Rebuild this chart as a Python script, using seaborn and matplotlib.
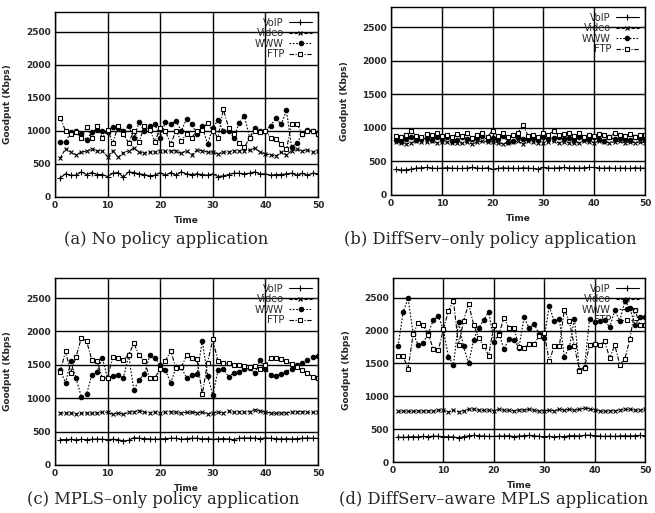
import numpy as np
import pandas as pd
import matplotlib.pyplot as plt
import seaborn as sns

# Time axis shared by all four panels
time = list(range(1, 51))

# (a) No policy application
a_voip = [290, 350, 330, 330, 380, 340, 370, 340, 340, 310, 360, 370, 300, 380, 370, 350, 340, 320, 330, 370,
          330, 370, 330, 380, 350, 340, 350, 340, 330, 350, 310, 320, 340, 360, 360, 350, 360, 380, 350, 350,
          330, 340, 340, 350, 360, 330, 360, 330, 360, 350]
a_video = [590, 730, 680, 640, 680, 690, 730, 700, 700, 610, 700, 600, 670, 700, 740, 680, 660, 680, 680, 700,
           690, 700, 700, 660, 700, 640, 710, 700, 680, 680, 650, 680, 680, 700, 700, 700, 710, 740, 680, 650,
           640, 620, 680, 640, 700, 720, 700, 710, 680, 700]
a_www = [830, 830, 980, 1000, 950, 870, 980, 1010, 1000, 990, 1060, 1050, 1000, 1070, 900, 1130, 1000, 1070, 1100, 900,
         1140, 1100, 1150, 1000, 1180, 1100, 950, 1070, 800, 1050, 1160, 1000, 1000, 900, 1120, 1230, 900, 1050, 1000, 1000,
         1080, 1190, 1100, 1310, 750, 820, 950, 1020, 1000, 960]
a_ftp = [1200, 1000, 950, 980, 900, 1060, 900, 1080, 890, 1020, 820, 1080, 950, 820, 1000, 830, 1080, 1020, 840, 1050,
         1000, 800, 1000, 850, 950, 900, 1000, 1020, 1120, 1000, 900, 1330, 1050, 950, 820, 750, 900, 1000, 980, 1000,
         900, 880, 800, 720, 1110, 1110, 950, 1000, 1000, 960]

# (b) DiffServ-only policy application
b_voip = [380, 370, 375, 385, 400, 405, 410, 400, 395, 400, 405, 400, 395, 395, 400, 410, 400, 395, 405, 380,
          395, 405, 400, 400, 395, 405, 400, 395, 385, 410, 400, 400, 405, 410, 400, 405, 400, 405, 410, 410,
          400, 400, 405, 395, 400, 400, 395, 405, 400, 400]
b_video = [790, 770, 760, 780, 800, 790, 790, 800, 780, 790, 790, 780, 780, 770, 790, 760, 790, 800, 790, 790,
           780, 760, 780, 790, 800, 760, 800, 790, 780, 780, 790, 800, 780, 790, 780, 770, 780, 800, 790, 780,
           800, 790, 780, 790, 800, 780, 790, 780, 790, 780]
b_www = [820, 810, 840, 870, 820, 830, 850, 820, 860, 830, 870, 810, 820, 860, 830, 830, 850, 880, 820, 850,
         830, 880, 790, 800, 860, 840, 830, 850, 820, 860, 840, 850, 870, 830, 850, 820, 860, 840, 830, 870,
         840, 810, 860, 830, 850, 840, 820, 860, 850, 830]
b_ftp = [880, 870, 900, 950, 880, 860, 910, 890, 930, 880, 900, 860, 910, 880, 920, 850, 900, 930, 870, 960,
         880, 920, 870, 890, 930, 1040, 880, 900, 870, 920, 900, 950, 890, 910, 930, 880, 920, 870, 900, 880,
         910, 900, 860, 920, 890, 880, 910, 870, 890, 900]

# (c) MPLS-only policy application
c_voip = [380, 380, 385, 375, 385, 380, 385, 390, 385, 380, 385, 380, 360, 370, 410, 400, 395, 390, 385, 390,
          395, 400, 400, 385, 395, 400, 400, 390, 395, 385, 390, 395, 390, 380, 400, 405, 405, 400, 395, 405,
          400, 395, 390, 395, 390, 395, 400, 405, 400, 400]
c_video = [780, 775, 780, 770, 775, 780, 775, 780, 790, 790, 760, 780, 760, 790, 800, 810, 790, 785, 790, 780,
           790, 800, 790, 780, 790, 790, 785, 790, 770, 780, 790, 780, 810, 790, 800, 790, 800, 830, 810, 790,
           780, 775, 780, 780, 790, 800, 800, 790, 790, 800]
c_www = [1420, 1230, 1550, 1300, 1020, 1060, 1350, 1400, 1600, 1300, 1330, 1350, 1300, 1640, 1120, 1280, 1360, 1640, 1600, 1500,
         1420, 1230, 1460, 1460, 1310, 1350, 1360, 1860, 1340, 1050, 1420, 1440, 1320, 1380, 1400, 1430, 1450, 1380, 1570, 1440,
         1350, 1340, 1360, 1400, 1440, 1490, 1530, 1570, 1610, 1630]
c_ftp = [1400, 1700, 1380, 1620, 1900, 1860, 1570, 1550, 1300, 1310, 1620, 1600, 1570, 1650, 1820, 1640, 1560, 1300, 1310, 1430,
         1560, 1710, 1450, 1460, 1640, 1600, 1580, 1060, 1530, 1880, 1550, 1530, 1520, 1500, 1500, 1480, 1470, 1480, 1440, 1500,
         1600, 1600, 1590, 1560, 1510, 1460, 1420, 1380, 1320, 1310]

# (d) DiffServ-aware MPLS application
d_voip = [380, 375, 380, 385, 380, 390, 385, 395, 390, 385, 385, 380, 370, 385, 400, 405, 400, 395, 390, 390,
          395, 395, 400, 385, 395, 400, 405, 400, 390, 385, 390, 380, 390, 385, 400, 400, 395, 405, 410, 400,
          395, 390, 395, 390, 395, 400, 395, 400, 405, 400]
d_video = [770, 775, 770, 770, 775, 775, 780, 775, 790, 785, 760, 790, 765, 780, 800, 805, 790, 785, 790, 780,
           800, 790, 785, 780, 790, 790, 800, 790, 775, 780, 785, 780, 800, 790, 800, 790, 800, 820, 810, 790,
           780, 770, 780, 780, 790, 800, 800, 790, 790, 800]
d_www = [1760, 2280, 2490, 1950, 1780, 1810, 1960, 2160, 2220, 2010, 1600, 1480, 2130, 1760, 1500, 1860, 2040, 2160, 2290, 1820,
         1960, 1720, 1870, 1860, 1740, 2200, 2040, 2100, 1950, 1890, 2370, 2140, 2180, 1600, 1750, 2180, 1400, 1450, 2180, 2130,
         2150, 2160, 2050, 2310, 2150, 2450, 2340, 2080, 2200, 2200]
d_ftp = [1610, 1610, 1420, 1950, 2120, 2080, 1940, 1720, 1700, 2020, 2300, 2450, 1780, 2150, 2410, 2090, 1890, 1760, 1620, 2090,
         1940, 2190, 2040, 2040, 1750, 1730, 1800, 1790, 1920, 1970, 1530, 1770, 1760, 2320, 2140, 1760, 1390, 1430, 1780, 1790,
         1780, 1840, 1580, 1780, 1480, 1570, 1870, 2320, 2080, 2080]

series_names = ['VoIP', 'Video', 'WWW', 'FTP']
captions = ['(a) No policy application',
            '(b) DiffServ\u2013only policy application',
            '(c) MPLS\u2013only policy application',
            '(d) DiffServ\u2013aware MPLS application']
panel_data = [
    [a_voip, a_video, a_www, a_ftp],
    [b_voip, b_video, b_www, b_ftp],
    [c_voip, c_video, c_www, c_ftp],
    [d_voip, d_video, d_www, d_ftp],
]

# line styles in the gnuplot look: (linestyle, marker, filled)
styles = {
    'VoIP': ('-', '+', True),
    'Video': ((0, (3, 1.5)), 'x', True),
    'WWW': ((0, (1.5, 1.5)), 'o', True),
    'FTP': ((0, (4, 1.5, 1, 1.5)), 's', False),
}

sns.set_style('white')
plt.rcParams['font.family'] = ['DejaVu Sans']

fig = plt.figure(figsize=(6.55, 5.13), dpi=100)
W, H = 655, 513
# axes boxes in pixels: left, top, right, bottom
boxes = [(55, 12, 318, 197), (391, 7, 645, 195), (55, 278, 318, 465), (393, 278, 645, 462)]
cap_pos = [(166, 240), (490, 240), (163, 500), (494, 500)]

for i, (box, vals) in enumerate(zip(boxes, panel_data)):
    l, t, r, b = box
    ax = fig.add_axes([l / W, 1 - b / H, (r - l) / W, (b - t) / H])
    for name, y in zip(series_names, vals):
        ls, mk, filled = styles[name]
        df = pd.DataFrame({'Time': time, 'Goodput': y})
        sns.lineplot(data=df, x='Time', y='Goodput', ax=ax, color='black', linewidth=0.8,
                     linestyle=ls, marker=mk, markersize=3.2 if mk != '+' else 4,
                     markeredgewidth=0.8, markerfacecolor='black' if filled else 'white',
                     markeredgecolor='black', label=name)
    ax.set_xlim(0, 50)
    ax.set_ylim(0, 2800)
    ax.set_xticks(range(0, 51, 10))
    ax.set_yticks(range(0, 2501, 500))
    ax.grid(True, color='black', linewidth=1.0)
    ax.tick_params(direction='in', length=3, labelsize=6.5, top=True, right=True, pad=3)
    for lab in ax.get_xticklabels() + ax.get_yticklabels():
        lab.set_fontweight('bold')
    for s in ax.spines.values():
        s.set_color('black')
        s.set_linewidth(1.0)
    ax.set_xlabel('Time', fontsize=6.5, fontweight='bold', labelpad=4)
    ax.set_ylabel('Goodput (Kbps)', fontsize=6.5, fontweight='bold')
    ax.yaxis.set_label_coords(-0.165, 0.5)
    ax.legend(loc='upper right', frameon=False, fontsize=7, markerfirst=False,
              handlelength=2.4, labelspacing=0.05, borderaxespad=0.2, handletextpad=0.5)
    cx, cy = cap_pos[i]
    fig.text(cx / W, 1 - cy / H, captions[i], ha='center', va='center',
             fontsize=11.8, family='DejaVu Serif')

fig.savefig('out.png', dpi=100)
